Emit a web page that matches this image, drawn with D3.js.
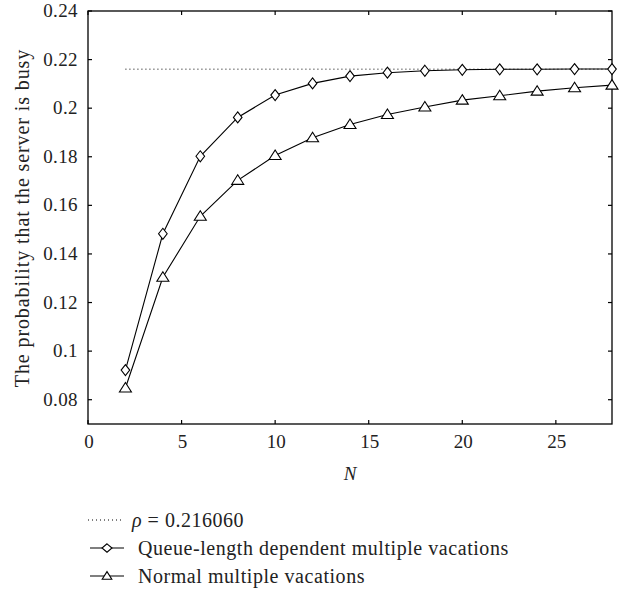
<!DOCTYPE html>
<html><head><meta charset="utf-8">
<script src="https://cdn.jsdelivr.net/npm/d3@7"></script>
<style>body{margin:0;background:#fff}svg{display:block}</style>
</head><body>
<script>
const N = [2,4,6,8,10,12,14,16,18,20,22,24,26,28];
const queueDependent = [0.0922,0.1483,0.1802,0.1962,0.2054,0.2102,0.2132,0.2146,0.2154,0.2158,0.2160,0.2160,0.2161,0.2161];
const normal = [0.0848,0.1304,0.1555,0.1703,0.1805,0.1878,0.1933,0.1974,0.2005,0.2033,0.2051,0.2070,0.2084,0.2095];
const rho = 0.216060;
const rhoRange = [2,28];
const xTicks = [0,5,10,15,20,25];
const yTicks = [0.08,0.1,0.12,0.14,0.16,0.18,0.2,0.22,0.24];
const legendLabels = ["\u03C1 = 0.216060","Queue-length dependent multiple vacations","Normal multiple vacations"];

const W=621,H=590;
const svg=d3.select("body").append("svg").attr("width",W).attr("height",H);
const font="'Liberation Serif','DejaVu Serif',serif";
const L=88,R=612,T=11,B=424;
const x=d3.scaleLinear().domain([0,28]).range([L,R]);
const y=d3.scaleLinear().domain([0.07,0.24]).range([B,T]);
const tl=4;
const g=svg.append("g");
// frame
g.append("rect").attr("x",L).attr("y",T).attr("width",R-L).attr("height",B-T)
 .attr("fill","none").attr("stroke","#000").attr("stroke-width",1.3);
// ticks
xTicks.forEach(t=>{
  g.append("line").attr("x1",x(t)).attr("x2",x(t)).attr("y1",B).attr("y2",B-tl).attr("stroke","#000").attr("stroke-width",1.2);
  g.append("line").attr("x1",x(t)).attr("x2",x(t)).attr("y1",T).attr("y2",T+tl).attr("stroke","#000").attr("stroke-width",1.2);
  g.append("text").attr("x",x(t)+1).attr("y",448).attr("text-anchor","middle")
   .attr("font-family",font).attr("font-size",19).attr("fill","#222").text(t);
});
yTicks.forEach(t=>{
  g.append("line").attr("x1",L).attr("x2",L+tl).attr("y1",y(t)).attr("y2",y(t)).attr("stroke","#000").attr("stroke-width",1.2);
  g.append("line").attr("x1",R).attr("x2",R-tl).attr("y1",y(t)).attr("y2",y(t)).attr("stroke","#000").attr("stroke-width",1.2);
  g.append("text").attr("x",78).attr("y",y(t)+6).attr("text-anchor","end")
   .attr("font-family",font).attr("font-size",19).attr("letter-spacing",0.4).attr("fill","#222").text(String(+t.toFixed(2)));
});
// axis labels
svg.append("text").attr("x",350).attr("y",480).attr("text-anchor","middle")
 .attr("font-family",font).attr("font-size",19).attr("font-style","italic").attr("fill","#222").text("N");
svg.append("text").attr("transform","translate(29,218) rotate(-90)").attr("text-anchor","middle")
 .attr("font-family",font).attr("font-size",20).attr("letter-spacing",0.9).attr("fill","#222").text("The probability that the server is busy");

// rho line
svg.append("line").attr("x1",x(rhoRange[0])).attr("x2",x(rhoRange[1])).attr("y1",y(rho)).attr("y2",y(rho))
 .attr("stroke","#000").attr("stroke-width",1).attr("stroke-dasharray","1,3");

const line=d3.line().x(d=>x(d[0])).y(d=>y(d[1]));
const s1=N.map((n,i)=>[n,queueDependent[i]]);
const s2=N.map((n,i)=>[n,normal[i]]);
svg.append("path").attr("d",line(s1)).attr("fill","none").attr("stroke","#000").attr("stroke-width",1.1);
svg.append("path").attr("d",line(s2)).attr("fill","none").attr("stroke","#000").attr("stroke-width",1.1);

function diamond(sel,cx,cy,hw,hh){
  hw=hw||4.3; hh=hh||5.5;
  sel.append("path").attr("d",`M${cx},${cy-hh}L${cx+hw},${cy}L${cx},${cy+hh}L${cx-hw},${cy}Z`)
   .attr("fill","#fff").attr("stroke","#000").attr("stroke-width",1.1);
}
function triangle(sel,cx,cy,s){
  s=s||1;
  sel.append("path").attr("d",`M${cx},${cy-5.5*s}L${cx+6*s},${cy+4*s}L${cx-6*s},${cy+4*s}Z`)
   .attr("fill","#fff").attr("stroke","#000").attr("stroke-width",1.1);
}
s1.forEach(d=>diamond(svg,x(d[0]),y(d[1])));
s2.forEach(d=>triangle(svg,x(d[0]),y(d[1])));

// legend
const ly=[520,548,576];
svg.append("line").attr("x1",88).attr("x2",123).attr("y1",ly[0]).attr("y2",ly[0])
 .attr("stroke","#000").attr("stroke-dasharray","1,3");
[1,2].forEach(i=>{
  svg.append("line").attr("x1",90).attr("x2",124).attr("y1",ly[i]).attr("y2",ly[i]).attr("stroke","#000").attr("stroke-width",1.1);
});
diamond(svg,107,ly[1],5,4.2);
triangle(svg,107,ly[2],0.8);
svg.append("text").attr("x",132).attr("y",ly[0]+7).attr("font-family",font).attr("font-size",20).attr("letter-spacing",0.5).attr("fill","#222")
 .html("<tspan font-style='italic'>\u03C1</tspan> = 0.216060");
svg.append("text").attr("x",138).attr("y",ly[1]+7).attr("font-family",font).attr("font-size",20).attr("letter-spacing",0.55).attr("fill","#222").text(legendLabels[1]);
svg.append("text").attr("x",138).attr("y",ly[2]+7).attr("font-family",font).attr("font-size",20).attr("letter-spacing",0.55).attr("fill","#222").text(legendLabels[2]);
</script>
</body></html>
